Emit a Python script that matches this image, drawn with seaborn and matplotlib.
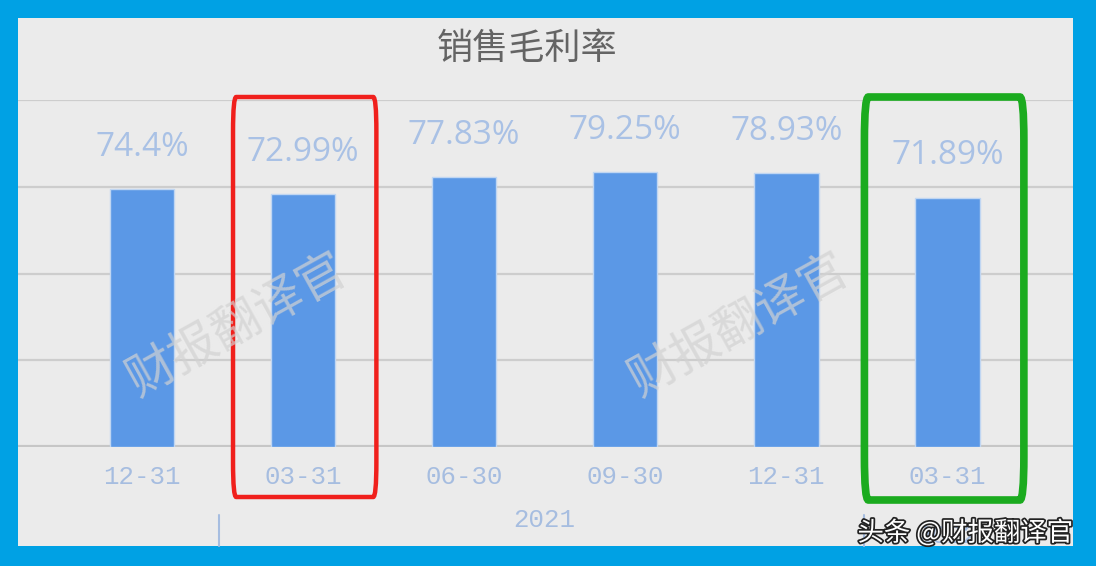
import matplotlib
matplotlib.use("Agg")
import matplotlib.pyplot as plt
import matplotlib.patheffects as pe
from matplotlib.patches import FancyBboxPatch
import seaborn as sns
import pandas as pd

# ---- data ----
periods = ["2020-12-31", "2021-03-31", "2021-06-30", "2021-09-30", "2021-12-31", "2022-03-31"]
tick_labels = ["12-31", "03-31", "06-30", "09-30", "12-31", "03-31"]
margin_values = [74.4, 72.99, 77.83, 79.25, 78.93, 71.89]
value_labels = ["74.4%", "72.99%", "77.83%", "79.25%", "78.93%", "71.89%"]
year_labels = ["2021", "2022"]
title_text = "销售毛利率"
watermark_text = "财报翻译官"
credit_text = "头条 @财报翻译官"

df = pd.DataFrame({"period": periods, "margin": margin_values})

sns.set_theme(style="white")
plt.rcParams["font.family"] = ["Noto Sans CJK SC", "DejaVu Sans"]

W, H = 1096, 566
fig = plt.figure(figsize=(W / 100, H / 100), dpi=100, facecolor="#00a1e4")

# inner gray panel
fig.patches.append(plt.Rectangle((18 / W, 1 - 546 / H), (1073 - 18) / W, (546 - 18) / H,
                                 transform=fig.transFigure, facecolor="#ebebeb",
                                 edgecolor="none", zorder=-5))

ax = fig.add_axes([18 / W, 1 - 447 / H, (1073 - 18) / W, (447 - 100) / H])
ax.set_facecolor("none")
ax.set_zorder(1)

sns.barplot(data=df, x="period", y="margin", ax=ax, color="#5b98e6", width=0.4,
            edgecolor="#c0d6f2", linewidth=1, saturation=1, zorder=3)

ax.set_xlim(-0.77, 5.78)
ax.set_ylim(0, 100)
ax.set_yticks([0, 25, 50, 75, 100])
ax.set_yticklabels([])
ax.yaxis.grid(True, color="#cdcdcd", linewidth=1.6, zorder=0)
ax.set_axisbelow(True)
for s in ax.spines.values():
    s.set_visible(False)
ax.axhline(0, color="#c6c6c6", linewidth=3, zorder=2)
ax.set_xlabel("")
ax.set_ylabel("")
ax.set_xticks(range(len(tick_labels)))
ax.set_xticklabels(tick_labels, family=["Liberation Mono", "DejaVu Sans Mono"],
                   fontsize=18.5, color="#a6bde0")
ax.tick_params(axis="x", length=0, pad=13)
ax.tick_params(axis="y", length=0)

# value labels
for i, (v, lab) in enumerate(zip(margin_values, value_labels)):
    ax.annotate(lab, (i, v), xytext=(0, 30), textcoords="offset points",
                ha="center", va="center", fontsize=24, color="#a9c1e5",
                family=["Open Sans", "DejaVu Sans"], zorder=5)

# year group labels and separators
xt = ax.get_xaxis_transform()
lab_font = dict(family=["Liberation Mono", "DejaVu Sans Mono"], fontsize=18.5, color="#a6bde0")
ax.text(2.5, (447 - 520) / 347, year_labels[0], transform=xt, ha="center", va="center",
        clip_on=False, **lab_font)
ax.text(5, (447 - 536) / 347, year_labels[1], transform=xt, ha="center", va="center",
        clip_on=False, **lab_font)
for xs in (0.5, 4.5):
    ax.plot([xs - 0.02, xs - 0.02], [(447 - 515) / 347, (447 - 546) / 347], transform=xt,
            color="#a6bde0", linewidth=1.5, clip_on=False)

# highlight boxes
ax.add_patch(FancyBboxPatch((1 - 0.435, (447 - 497) / 347), 0.89, (497 - 97) / 347,
                            boxstyle="round,pad=0,rounding_size=0.02",
                            transform=xt, fill=False, edgecolor="#f0201c",
                            linewidth=3.2, clip_on=False, zorder=6,
                            mutation_aspect=5))
ax.add_patch(FancyBboxPatch((5 - 0.515, (447 - 500) / 347), 0.99, (500 - 97) / 347,
                            boxstyle="round,pad=0,rounding_size=0.025",
                            transform=xt, fill=False, edgecolor="#1bab1f",
                            linewidth=5.5, clip_on=False, zorder=6,
                            mutation_aspect=5))

# title
fig.text(527 / W, 1 - 49 / H, title_text, ha="center", va="center", fontsize=26,
         color="#646464")

# watermarks
for cx in (237, 739):
    fig.text(cx / W, 1 - 325 / H, watermark_text, ha="center", va="center", fontsize=35,
             rotation=29, color="#d2d2d2", alpha=0.7, zorder=10)

# credit
fig.text(1073 / W, 1 - 533 / H, credit_text, ha="right", va="center", fontsize=19,
         color="white", zorder=11,
         path_effects=[pe.withStroke(linewidth=2.5, foreground="#222222")])

fig.savefig("out.png", dpi=100, facecolor=fig.get_facecolor())
